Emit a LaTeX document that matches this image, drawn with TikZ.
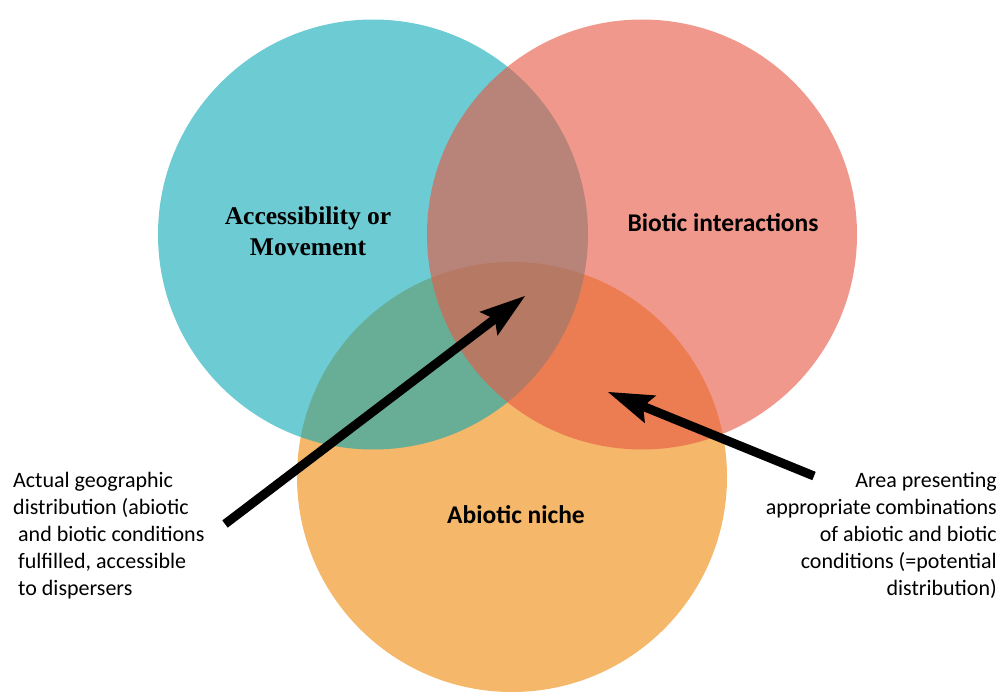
\documentclass[tikz,border=0pt]{standalone}
\usepackage{fontspec}
\setmainfont{Carlito}
\newfontfamily\timesfont{Liberation Serif}
\usetikzlibrary{arrows.meta}

\definecolor{abioticfill}{RGB}{245,183,105}
\definecolor{accessfill}{RGB}{10,168,182}
\definecolor{bioticfill}{RGB}{231,89,68}

\tikzset{
  zone/.style={circle, minimum size=430pt, inner sep=0pt, outer sep=0pt},
  zonelabel/.style={font=\fontsize{25.5}{31}\selectfont\bfseries, inner sep=0pt},
  caption/.style={font=\fontsize{22}{27}\selectfont, inner sep=0pt},
  pointer/.style={line width=9pt,
    -{Stealth[length=46pt, width=30pt, inset=8pt, line width=0pt]}},
}

\begin{document}
\begin{tikzpicture}[x=1pt, y=-1pt]
  \useasboundingbox (0,0) rectangle (1003,695);

  % the three niches, abiotic one at the bottom of the stack
  \node[zone, fill=abioticfill] (abiotic) at (512,477) {};
  \node[zone, fill=accessfill, fill opacity=0.6] (access) at (373,234.5) {};
  \node[zone, fill=bioticfill, fill opacity=0.62] (biotic) at (642,234.5) {};

  % multi-line nodes: base sits on the last line
  \node[zonelabel, font=\fontsize{25.5}{31}\selectfont\timesfont\bfseries,
        align=center, anchor=base] (accesstxt) at (308,255)
        {Accessibility or\\Movement};
  \node[zonelabel, anchor=base] (biotictxt) at (723,231) {Biotic interactions};
  \node[zonelabel, anchor=base] (abiotictxt) at (516,523) {Abiotic niche};

  % side notes
  \node[caption, align=left, anchor=base west] (actual) at (13,595)
    {Actual geographic\\distribution (abiotic\\
     \hspace{5pt}and biotic conditions\\
     \hspace{5pt}fulfilled, accessible\\
     \hspace{5pt}to dispersers};
  \node[caption, align=right, anchor=base east] (potential) at (997,595)
    {Area presenting\hspace{7pt}\\appropriate combinations\\
     of abiotic and biotic\\conditions (=potential\hspace{12pt}\\
     distribution)};

  \coordinate (actualtail) at (225,524);
  \coordinate (actualtip) at (525,296);
  \coordinate (potentialtail) at (814,476);
  \coordinate (potentialtip) at (608,392);

  \draw[pointer] (actualtail) -- (actualtip);
  \draw[pointer] (potentialtail) -- (potentialtip);
\end{tikzpicture}
\end{document}
